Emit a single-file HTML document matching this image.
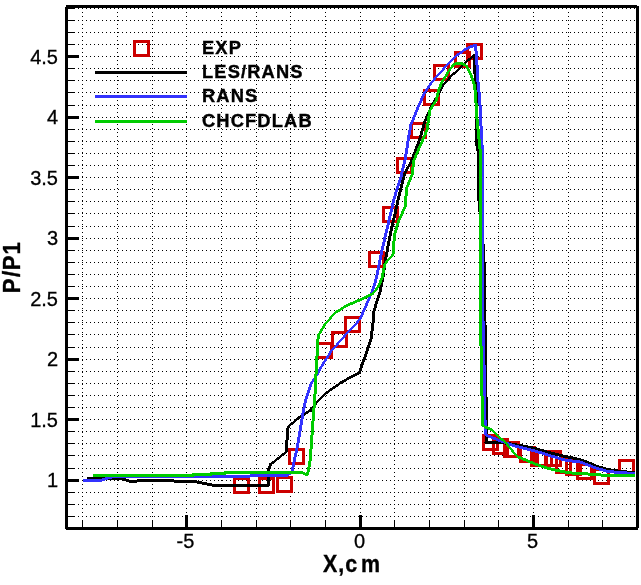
<!DOCTYPE html><html><head><meta charset="utf-8"><title>P/P1</title>
<style>html,body{margin:0;padding:0;background:#fff}body{width:641px;height:585px;overflow:hidden}svg{display:block;will-change:transform}text{font-family:"Liberation Sans",sans-serif;fill:#000}.t{font-size:20px;stroke:#000;stroke-width:0.3px}.b{font-weight:bold;stroke:#000;stroke-width:0.35px}</style></head><body>
<svg width="641" height="585" viewBox="0 0 641 585">
<rect width="641" height="585" fill="#fff"/>
<g shape-rendering="crispEdges" stroke="#000" stroke-width="1" stroke-dasharray="1 3" fill="none">
<line x1="78" x2="636" y1="8.5" y2="8.5"/>
<line x1="78" x2="636" y1="20.5" y2="20.5"/>
<line x1="78" x2="636" y1="32.5" y2="32.5"/>
<line x1="78" x2="636" y1="44.5" y2="44.5"/>
<line x1="78" x2="636" y1="56.5" y2="56.5"/>
<line x1="78" x2="636" y1="68.5" y2="68.5"/>
<line x1="78" x2="636" y1="80.5" y2="80.5"/>
<line x1="78" x2="636" y1="92.5" y2="92.5"/>
<line x1="78" x2="636" y1="105.5" y2="105.5"/>
<line x1="78" x2="636" y1="117.5" y2="117.5"/>
<line x1="78" x2="636" y1="129.5" y2="129.5"/>
<line x1="78" x2="636" y1="141.5" y2="141.5"/>
<line x1="78" x2="636" y1="153.5" y2="153.5"/>
<line x1="78" x2="636" y1="165.5" y2="165.5"/>
<line x1="78" x2="636" y1="177.5" y2="177.5"/>
<line x1="78" x2="636" y1="189.5" y2="189.5"/>
<line x1="78" x2="636" y1="201.5" y2="201.5"/>
<line x1="78" x2="636" y1="213.5" y2="213.5"/>
<line x1="78" x2="636" y1="226.5" y2="226.5"/>
<line x1="78" x2="636" y1="238.5" y2="238.5"/>
<line x1="78" x2="636" y1="250.5" y2="250.5"/>
<line x1="78" x2="636" y1="262.5" y2="262.5"/>
<line x1="78" x2="636" y1="274.5" y2="274.5"/>
<line x1="78" x2="636" y1="286.5" y2="286.5"/>
<line x1="78" x2="636" y1="298.5" y2="298.5"/>
<line x1="78" x2="636" y1="310.5" y2="310.5"/>
<line x1="78" x2="636" y1="322.5" y2="322.5"/>
<line x1="78" x2="636" y1="334.5" y2="334.5"/>
<line x1="78" x2="636" y1="347.5" y2="347.5"/>
<line x1="78" x2="636" y1="359.5" y2="359.5"/>
<line x1="78" x2="636" y1="371.5" y2="371.5"/>
<line x1="78" x2="636" y1="383.5" y2="383.5"/>
<line x1="78" x2="636" y1="395.5" y2="395.5"/>
<line x1="78" x2="636" y1="407.5" y2="407.5"/>
<line x1="78" x2="636" y1="419.5" y2="419.5"/>
<line x1="78" x2="636" y1="431.5" y2="431.5"/>
<line x1="78" x2="636" y1="443.5" y2="443.5"/>
<line x1="78" x2="636" y1="455.5" y2="455.5"/>
<line x1="78" x2="636" y1="468.5" y2="468.5"/>
<line x1="78" x2="636" y1="480.5" y2="480.5"/>
<line x1="78" x2="636" y1="492.5" y2="492.5"/>
<line x1="78" x2="636" y1="504.5" y2="504.5"/>
<line x1="78" x2="636" y1="516.5" y2="516.5"/>
<line x1="82.5" x2="82.5" y1="12" y2="520"/>
<line x1="117.5" x2="117.5" y1="12" y2="520"/>
<line x1="152.5" x2="152.5" y1="12" y2="520"/>
<line x1="186.5" x2="186.5" y1="12" y2="520"/>
<line x1="221.5" x2="221.5" y1="12" y2="520"/>
<line x1="256.5" x2="256.5" y1="12" y2="520"/>
<line x1="290.5" x2="290.5" y1="12" y2="520"/>
<line x1="325.5" x2="325.5" y1="12" y2="520"/>
<line x1="360.5" x2="360.5" y1="12" y2="520"/>
<line x1="394.5" x2="394.5" y1="12" y2="520"/>
<line x1="429.5" x2="429.5" y1="12" y2="520"/>
<line x1="464.5" x2="464.5" y1="12" y2="520"/>
<line x1="498.5" x2="498.5" y1="12" y2="520"/>
<line x1="533.5" x2="533.5" y1="12" y2="520"/>
<line x1="568.5" x2="568.5" y1="12" y2="520"/>
<line x1="602.5" x2="602.5" y1="12" y2="520"/>
</g>
<g shape-rendering="crispEdges" fill="#000">
<rect x="68" y="8" width="7" height="1"/>
<rect x="68" y="20" width="7" height="1"/>
<rect x="68" y="32" width="7" height="1"/>
<rect x="68" y="44" width="7" height="1"/>
<rect x="68" y="55" width="11" height="3"/>
<rect x="68" y="68" width="7" height="1"/>
<rect x="68" y="80" width="7" height="1"/>
<rect x="68" y="92" width="7" height="1"/>
<rect x="68" y="105" width="7" height="1"/>
<rect x="68" y="116" width="11" height="3"/>
<rect x="68" y="129" width="7" height="1"/>
<rect x="68" y="141" width="7" height="1"/>
<rect x="68" y="153" width="7" height="1"/>
<rect x="68" y="165" width="7" height="1"/>
<rect x="68" y="176" width="11" height="3"/>
<rect x="68" y="189" width="7" height="1"/>
<rect x="68" y="201" width="7" height="1"/>
<rect x="68" y="213" width="7" height="1"/>
<rect x="68" y="226" width="7" height="1"/>
<rect x="68" y="237" width="11" height="3"/>
<rect x="68" y="250" width="7" height="1"/>
<rect x="68" y="262" width="7" height="1"/>
<rect x="68" y="274" width="7" height="1"/>
<rect x="68" y="286" width="7" height="1"/>
<rect x="68" y="297" width="11" height="3"/>
<rect x="68" y="310" width="7" height="1"/>
<rect x="68" y="322" width="7" height="1"/>
<rect x="68" y="334" width="7" height="1"/>
<rect x="68" y="347" width="7" height="1"/>
<rect x="68" y="358" width="11" height="3"/>
<rect x="68" y="371" width="7" height="1"/>
<rect x="68" y="383" width="7" height="1"/>
<rect x="68" y="395" width="7" height="1"/>
<rect x="68" y="407" width="7" height="1"/>
<rect x="68" y="418" width="11" height="3"/>
<rect x="68" y="431" width="7" height="1"/>
<rect x="68" y="443" width="7" height="1"/>
<rect x="68" y="455" width="7" height="1"/>
<rect x="68" y="468" width="7" height="1"/>
<rect x="68" y="479" width="11" height="3"/>
<rect x="68" y="492" width="7" height="1"/>
<rect x="68" y="504" width="7" height="1"/>
<rect x="68" y="516" width="7" height="1"/>
<rect x="82" y="520" width="1" height="7"/>
<rect x="117" y="520" width="1" height="7"/>
<rect x="152" y="520" width="1" height="7"/>
<rect x="185" y="515" width="3" height="12"/>
<rect x="221" y="520" width="1" height="7"/>
<rect x="256" y="520" width="1" height="7"/>
<rect x="290" y="520" width="1" height="7"/>
<rect x="325" y="520" width="1" height="7"/>
<rect x="359" y="515" width="3" height="12"/>
<rect x="394" y="520" width="1" height="7"/>
<rect x="429" y="520" width="1" height="7"/>
<rect x="464" y="520" width="1" height="7"/>
<rect x="498" y="520" width="1" height="7"/>
<rect x="532" y="515" width="3" height="12"/>
<rect x="568" y="520" width="1" height="7"/>
<rect x="602" y="520" width="1" height="7"/>
</g>
<g shape-rendering="crispEdges" fill="none" stroke="#cc0000" stroke-width="3">
<rect x="234.5" y="478.5" width="14" height="14"/>
<rect x="259.5" y="478.5" width="14" height="14"/>
<rect x="277.5" y="477.5" width="14" height="14"/>
<rect x="289.5" y="449.5" width="14" height="14"/>
<rect x="317.5" y="343.5" width="14" height="14"/>
<rect x="332.5" y="332.5" width="14" height="14"/>
<rect x="345.5" y="317.5" width="14" height="14"/>
<rect x="369.5" y="252.5" width="14" height="14"/>
<rect x="383.5" y="207.5" width="14" height="14"/>
<rect x="397.5" y="158.5" width="14" height="14"/>
<rect x="411.5" y="123.5" width="14" height="14"/>
<rect x="424.5" y="90.5" width="14" height="14"/>
<rect x="434.5" y="65.5" width="14" height="14"/>
<rect x="455.5" y="52.5" width="14" height="14"/>
<rect x="467.5" y="44.5" width="14" height="14"/>
<rect x="483.5" y="435.5" width="14" height="14"/>
<rect x="493.5" y="439.5" width="14" height="14"/>
<rect x="504.5" y="442.5" width="14" height="14"/>
<rect x="520.5" y="447.5" width="14" height="14"/>
<rect x="531.5" y="451.5" width="14" height="14"/>
<rect x="537.5" y="451.5" width="14" height="14"/>
<rect x="546.5" y="451.5" width="14" height="14"/>
<rect x="556.5" y="458.5" width="14" height="14"/>
<rect x="566.5" y="460.5" width="14" height="14"/>
<rect x="577.5" y="464.5" width="14" height="14"/>
<rect x="594.5" y="469.5" width="14" height="14"/>
<rect x="619.5" y="460.5" width="14" height="14"/>
</g>
<g shape-rendering="crispEdges" stroke="none">
<path fill="#000" d="M87.2 476.5L114.0 476.5L114.0 479.5L87.2 479.5ZM114.0 476.5L122.0 477.0L122.0 480.0L114.0 479.5ZM122.0 477.0L127.0 479.0L127.0 482.0L122.0 480.0ZM127.0 479.0L131.0 480.0L131.0 483.0L127.0 482.0ZM131.0 480.0L136.5 480.0L136.5 483.0L131.0 483.0ZM136.5 480.0L137.5 479.0L137.5 482.0L136.5 483.0ZM137.5 479.0L173.5 479.0L173.5 482.0L137.5 482.0ZM173.5 479.0L174.5 480.0L174.5 483.0L173.5 482.0ZM174.5 480.0L195.0 480.0L195.0 483.0L174.5 483.0ZM195.0 480.0L214.0 484.0L214.0 487.0L195.0 483.0ZM214.0 484.0L268.0 484.0L268.0 487.0L214.0 487.0ZM266.5 485.5L266.5 470.0L269.5 470.0L269.5 485.5ZM266.8 484.3L269.2 484.3L269.2 486.7L266.8 486.7ZM266.5 470.0L269.0 464.5L272.0 464.5L269.5 470.0ZM270.5 463.0L286.0 450.5L286.0 453.5L270.5 466.0ZM269.3 463.3L271.7 463.3L271.7 465.7L269.3 465.7ZM284.5 452.0L285.7 437.5L288.7 437.5L287.5 452.0ZM284.8 450.8L287.2 450.8L287.2 453.2L284.8 453.2ZM285.7 437.5L286.4 428.3L289.4 428.3L288.7 437.5ZM286.4 428.3L287.3 426.4L290.3 426.4L289.4 428.3ZM288.8 424.9L298.2 416.5L298.2 419.5L288.8 427.9ZM287.6 425.2L290.0 425.2L290.0 427.6L287.6 427.6ZM298.2 416.5L310.4 408.9L310.4 411.9L298.2 419.5ZM308.9 410.4L315.5 402.0L318.5 402.0L311.9 410.4ZM309.2 409.2L311.6 409.2L311.6 411.6L309.2 411.6ZM317.0 400.5L325.5 392.0L325.5 395.0L317.0 403.5ZM315.8 400.8L318.2 400.8L318.2 403.2L315.8 403.2ZM325.5 392.0L341.5 380.7L341.5 383.7L325.5 395.0ZM341.5 380.7L359.6 371.0L359.6 374.0L341.5 383.7ZM358.1 372.5L360.9 364.0L363.9 364.0L361.1 372.5ZM358.4 371.3L360.8 371.3L360.8 373.7L358.4 373.7ZM360.9 364.0L365.6 350.9L368.6 350.9L363.9 364.0ZM365.6 350.9L369.4 339.6L372.4 339.6L368.6 350.9ZM369.4 339.6L371.2 326.4L374.2 326.4L372.4 339.6ZM371.2 326.4L372.5 311.4L375.5 311.4L374.2 326.4ZM372.5 311.4L375.4 301.0L378.4 301.0L375.5 311.4ZM375.4 301.0L378.8 290.7L381.8 290.7L378.4 301.0ZM378.8 290.7L381.1 279.4L384.1 279.4L381.8 290.7ZM381.1 279.4L384.2 258.4L387.2 258.4L384.1 279.4ZM384.2 258.4L388.9 234.0L391.9 234.0L387.2 258.4ZM388.9 234.0L393.6 213.2L396.6 213.2L391.9 234.0ZM393.6 213.2L398.3 192.6L401.3 192.6L396.6 213.2ZM398.3 192.6L403.0 173.8L406.0 173.8L401.3 192.6ZM403.0 173.8L409.5 162.1L412.5 162.1L406.0 173.8ZM409.5 162.1L418.0 139.6L421.0 139.6L412.5 162.1ZM418.0 139.6L423.6 120.8L426.6 120.8L421.0 139.6ZM423.6 120.8L430.2 105.7L433.2 105.7L426.6 120.8ZM430.2 105.7L436.0 96.0L439.0 96.0L433.2 105.7ZM436.0 96.0L441.5 85.0L444.5 85.0L439.0 96.0ZM441.5 85.0L449.7 76.2L452.7 76.2L444.5 85.0ZM451.2 74.7L462.4 64.1L462.4 67.1L451.2 77.7ZM450.0 75.0L452.4 75.0L452.4 77.4L450.0 77.4ZM462.4 64.1L473.9 53.5L473.9 56.5L462.4 67.1ZM475.4 55.0L476.0 69.9L473.0 69.9L472.4 55.0ZM472.7 53.8L475.1 53.8L475.1 56.2L472.7 56.2ZM476.0 69.9L477.7 82.4L474.7 82.4L473.0 69.9ZM477.7 82.4L478.3 103.0L475.3 103.0L474.7 82.4ZM478.3 103.0L478.3 145.2L475.3 145.2L475.3 103.0ZM478.3 145.2L480.2 154.6L477.2 154.6L475.3 145.2ZM480.2 154.6L480.2 198.0L477.2 198.0L477.2 154.6ZM480.2 198.0L485.0 249.0L482.0 249.0L477.2 198.0ZM485.0 249.0L486.0 274.0L483.0 274.0L482.0 249.0ZM486.0 274.0L486.0 315.0L483.0 315.0L483.0 274.0ZM486.0 315.0L486.5 325.0L483.5 325.0L483.0 315.0ZM486.5 325.0L487.3 392.0L484.3 392.0L483.5 325.0ZM487.3 392.0L487.8 405.0L484.8 405.0L484.3 392.0ZM487.8 405.0L487.8 424.7L484.8 424.7L484.8 405.0ZM487.8 424.7L487.5 442.6L484.5 442.6L484.8 424.7ZM486.0 441.1L502.9 441.1L502.9 444.1L486.0 444.1ZM484.8 441.4L487.2 441.4L487.2 443.8L484.8 443.8ZM502.9 441.1L521.2 444.2L521.2 447.2L502.9 444.1ZM521.2 444.2L535.2 447.0L535.2 450.0L521.2 447.2ZM535.2 447.0L550.0 451.3L550.0 454.3L535.2 450.0ZM550.0 451.3L564.2 454.8L564.2 457.8L550.0 454.3ZM564.2 454.8L578.4 457.7L578.4 460.7L564.2 457.8ZM578.4 457.7L585.5 459.8L585.5 462.8L578.4 460.7ZM585.5 459.8L596.8 464.8L596.8 467.8L585.5 462.8ZM596.8 464.8L606.8 467.6L606.8 470.6L596.8 467.8ZM606.8 467.6L613.9 469.0L613.9 472.0L606.8 470.6ZM613.9 469.0L635.0 471.5L635.0 474.5L613.9 472.0Z"/>
<path fill="#3333ff" d="M83.1 479.0L100.0 479.0L100.0 482.0L83.1 482.0ZM100.0 479.0L106.0 477.0L106.0 480.0L100.0 482.0ZM106.0 477.0L113.4 475.0L113.4 478.0L106.0 480.0ZM113.4 475.0L249.0 475.0L249.0 478.0L113.4 478.0ZM249.0 475.0L250.0 474.0L250.0 477.0L249.0 478.0ZM250.0 474.0L287.0 474.0L287.0 477.0L250.0 477.0ZM287.0 474.0L290.0 472.0L290.0 475.0L287.0 477.0ZM288.5 473.5L290.9 470.6L293.9 470.6L291.5 473.5ZM288.8 472.3L291.2 472.3L291.2 474.7L288.8 474.7ZM290.9 470.6L293.5 457.0L296.5 457.0L293.9 470.6ZM293.5 457.0L296.2 445.2L299.2 445.2L296.5 457.0ZM296.2 445.2L301.4 413.2L304.4 413.2L299.2 445.2ZM301.4 413.2L304.2 400.0L307.2 400.0L304.4 413.2ZM304.2 400.0L309.9 383.2L312.9 383.2L307.2 400.0ZM309.9 383.2L315.8 374.4L318.8 374.4L312.9 383.2ZM315.8 374.4L321.4 364.0L324.4 364.0L318.8 374.4ZM321.4 364.0L329.9 350.9L332.9 350.9L324.4 364.0ZM329.9 350.9L344.9 333.9L347.9 333.9L332.9 350.9ZM344.9 333.9L358.1 319.8L361.1 319.8L347.9 333.9ZM358.1 319.8L363.7 307.6L366.7 307.6L361.1 319.8ZM363.7 307.6L369.4 294.4L372.4 294.4L366.7 307.6ZM369.4 294.4L373.1 285.0L376.1 285.0L372.4 294.4ZM373.1 285.0L375.0 277.5L378.0 277.5L376.1 285.0ZM375.0 277.5L379.5 254.6L382.5 254.6L378.0 277.5ZM379.5 254.6L386.1 226.4L389.1 226.4L382.5 254.6ZM386.1 226.4L392.7 198.2L395.7 198.2L389.1 226.4ZM392.7 198.2L399.3 177.5L402.3 177.5L395.7 198.2ZM399.3 177.5L403.9 158.4L406.9 158.4L402.3 177.5ZM403.9 158.4L406.7 139.6L409.7 139.6L406.9 158.4ZM406.7 139.6L409.5 124.5L412.5 124.5L409.7 139.6ZM409.5 124.5L415.2 110.4L418.2 110.4L412.5 124.5ZM415.2 110.4L422.7 93.5L425.7 93.5L418.2 110.4ZM422.7 93.5L431.0 81.2L434.0 81.2L425.7 93.5ZM431.0 81.2L443.5 67.4L446.5 67.4L434.0 81.2ZM443.5 67.4L455.9 55.0L458.9 55.0L446.5 67.4ZM457.4 53.5L466.2 47.2L466.2 50.2L457.4 56.5ZM456.2 53.8L458.6 53.8L458.6 56.2L456.2 56.2ZM466.2 47.2L475.5 43.5L475.5 46.5L466.2 50.2ZM477.0 45.0L478.3 61.2L475.3 61.2L474.0 45.0ZM474.3 43.8L476.7 43.8L476.7 46.2L474.3 46.2ZM478.3 61.2L479.5 82.4L476.5 82.4L475.3 61.2ZM479.5 82.4L481.2 98.2L478.2 98.2L476.5 82.4ZM481.2 98.2L483.0 135.8L480.0 135.8L478.2 98.2ZM483.0 135.8L484.0 154.6L481.0 154.6L480.0 135.8ZM484.0 154.6L484.0 250.0L481.0 250.0L481.0 154.6ZM484.0 250.0L484.0 315.0L481.0 315.0L481.0 250.0ZM484.0 315.0L484.8 325.0L481.8 325.0L481.0 315.0ZM484.8 325.0L486.5 420.0L483.5 420.0L481.8 325.0ZM486.5 420.0L486.7 433.0L483.7 433.0L483.5 420.0ZM486.7 433.0L487.5 435.2L484.5 435.2L483.7 433.0ZM486.0 433.7L500.1 439.3L500.1 442.3L486.0 436.7ZM484.8 434.0L487.2 434.0L487.2 436.4L484.8 436.4ZM500.1 439.3L514.1 444.2L514.1 447.2L500.1 442.3ZM514.1 444.2L528.2 447.7L528.2 450.7L514.1 447.2ZM528.2 447.7L540.8 451.2L540.8 454.2L528.2 450.7ZM540.8 451.2L550.0 454.1L550.0 457.1L540.8 454.2ZM550.0 454.1L564.2 458.4L564.2 461.4L550.0 457.1ZM564.2 458.4L579.8 460.5L579.8 463.5L564.2 461.4ZM579.8 460.5L585.5 462.6L585.5 465.6L579.8 463.5ZM585.5 462.6L596.8 466.9L596.8 469.9L585.5 465.6ZM596.8 466.9L606.8 469.7L606.8 472.7L596.8 469.9ZM606.8 469.7L621.0 471.2L621.0 474.2L606.8 472.7ZM621.0 471.2L634.5 471.9L634.5 474.9L621.0 474.2Z"/>
<path fill="#00cc00" d="M93.2 474.0L193.0 474.0L193.0 477.0L93.2 477.0ZM191.5 475.5L192.0 474.5L195.0 474.5L194.5 475.5ZM191.8 474.3L194.2 474.3L194.2 476.7L191.8 476.7ZM193.5 473.0L211.0 473.0L211.0 476.0L193.5 476.0ZM192.3 473.3L194.7 473.3L194.7 475.7L192.3 475.7ZM209.5 474.5L210.0 473.5L213.0 473.5L212.5 474.5ZM209.8 473.3L212.2 473.3L212.2 475.7L209.8 475.7ZM211.5 472.0L225.0 472.0L225.0 475.0L211.5 475.0ZM210.3 472.3L212.7 472.3L212.7 474.7L210.3 474.7ZM223.5 473.5L224.0 472.5L227.0 472.5L226.5 473.5ZM223.8 472.3L226.2 472.3L226.2 474.7L223.8 474.7ZM225.5 471.0L302.0 471.0L302.0 474.0L225.5 474.0ZM224.3 471.3L226.7 471.3L226.7 473.7L224.3 473.7ZM302.0 471.0L307.0 473.5L307.0 476.5L302.0 474.0ZM305.5 475.0L307.0 470.0L310.0 470.0L308.5 475.0ZM305.8 473.8L308.2 473.8L308.2 476.2L305.8 476.2ZM307.0 470.0L308.7 460.3L311.7 460.3L310.0 470.0ZM308.7 460.3L311.4 422.7L314.4 422.7L311.7 460.3ZM311.4 422.7L313.3 398.2L316.3 398.2L314.4 422.7ZM313.3 398.2L314.8 367.8L317.8 367.8L316.3 398.2ZM314.8 367.8L316.7 335.8L319.7 335.8L317.8 367.8ZM316.7 335.8L323.3 324.5L326.3 324.5L319.7 335.8ZM323.3 324.5L333.6 312.9L336.6 312.9L326.3 324.5ZM335.1 311.4L346.4 304.2L346.4 307.2L335.1 314.4ZM333.9 311.7L336.3 311.7L336.3 314.1L333.9 314.1ZM346.4 304.2L359.6 298.6L359.6 301.6L346.4 307.2ZM359.6 298.6L372.7 292.0L372.7 295.0L359.6 301.6ZM371.2 293.5L376.9 286.9L379.9 286.9L374.2 293.5ZM371.5 292.3L373.9 292.3L373.9 294.7L371.5 294.7ZM376.9 286.9L380.6 277.5L383.6 277.5L379.9 286.9ZM380.6 277.5L383.3 264.0L386.3 264.0L383.6 277.5ZM383.3 264.0L392.1 253.7L395.1 253.7L386.3 264.0ZM392.1 253.7L392.7 235.8L395.7 235.8L395.1 253.7ZM392.7 235.8L396.5 222.7L399.5 222.7L395.7 235.8ZM396.5 222.7L404.0 205.7L407.0 205.7L399.5 222.7ZM404.0 205.7L404.9 188.8L407.9 188.8L407.0 205.7ZM404.9 188.8L410.5 174.7L413.5 174.7L407.9 188.8ZM410.5 174.7L412.3 160.3L415.3 160.3L413.5 174.7ZM412.3 160.3L418.9 145.2L421.9 145.2L415.3 160.3ZM418.9 145.2L425.5 130.2L428.5 130.2L421.9 145.2ZM425.5 130.2L428.3 110.4L431.3 110.4L428.5 130.2ZM428.3 110.4L434.9 100.1L437.9 100.1L431.3 110.4ZM434.9 100.1L437.2 89.9L440.2 89.9L437.9 100.1ZM437.2 89.9L440.3 82.4L443.3 82.4L440.2 89.9ZM440.3 82.4L447.2 71.2L450.2 71.2L443.3 82.4ZM447.2 71.2L452.2 64.3L455.2 64.3L450.2 71.2ZM453.7 62.8L457.4 61.6L457.4 64.6L453.7 65.8ZM452.5 63.1L454.9 63.1L454.9 65.5L452.5 65.5ZM457.4 61.6L462.4 61.9L462.4 64.9L457.4 64.6ZM462.4 61.9L466.8 64.7L466.8 67.7L462.4 64.9ZM468.3 66.2L471.4 72.4L468.4 72.4L465.3 66.2ZM465.6 65.0L468.0 65.0L468.0 67.4L465.6 67.4ZM471.4 72.4L475.2 82.4L472.2 82.4L468.4 72.4ZM475.2 82.4L477.0 92.4L474.0 92.4L472.2 82.4ZM477.0 92.4L477.5 103.0L474.5 103.0L474.0 92.4ZM477.5 103.0L478.3 117.0L475.3 117.0L474.5 103.0ZM478.3 117.0L480.2 135.8L477.2 135.8L475.3 117.0ZM480.2 135.8L482.0 154.6L479.0 154.6L477.2 135.8ZM482.0 154.6L482.0 320.0L479.0 320.0L479.0 154.6ZM482.0 320.0L484.0 420.0L481.0 420.0L479.0 320.0ZM484.0 420.0L483.6 424.7L480.6 424.7L481.0 420.0ZM482.1 423.2L484.7 425.3L484.7 428.3L482.1 426.2ZM480.9 423.5L483.3 423.5L483.3 425.9L480.9 425.9ZM484.7 425.3L490.3 427.4L490.3 430.4L484.7 428.3ZM490.3 427.4L497.3 433.7L497.3 436.7L490.3 430.4ZM497.3 433.7L505.7 441.4L505.7 444.4L497.3 436.7ZM507.2 442.9L514.2 451.3L511.2 451.3L504.2 442.9ZM504.5 441.7L506.9 441.7L506.9 444.1L504.5 444.1ZM514.2 451.3L519.9 457.0L516.9 457.0L511.2 451.3ZM518.4 455.5L526.8 459.0L526.8 462.0L518.4 458.5ZM517.2 455.8L519.6 455.8L519.6 458.2L517.2 458.2ZM526.8 459.0L535.2 462.5L535.2 465.5L526.8 462.0ZM535.2 462.5L545.0 466.0L545.0 469.0L535.2 465.5ZM545.0 466.0L552.0 467.8L552.0 470.8L545.0 469.0ZM552.0 467.8L564.2 470.4L564.2 473.4L552.0 470.8ZM564.2 470.4L578.4 472.3L578.4 475.3L564.2 473.4ZM578.4 472.3L592.6 472.6L592.6 475.6L578.4 475.3ZM592.6 472.6L602.5 473.7L602.5 476.7L592.6 475.6ZM602.5 473.7L635.2 474.0L635.2 477.0L602.5 476.7Z"/>
</g>
<rect x="66.5" y="6.5" width="571" height="522" fill="none" stroke="#000" stroke-width="3" shape-rendering="crispEdges"/>
<g fill="#fff" shape-rendering="crispEdges"><rect x="65" y="5" width="1" height="2"/><rect x="637" y="5" width="2" height="1"/><rect x="638" y="528" width="1" height="2"/><rect x="65" y="529" width="1" height="1"/></g>
<g shape-rendering="crispEdges"><rect x="134.5" y="41.5" width="14" height="14" fill="none" stroke="#cc0000" stroke-width="3"/>
<rect x="95" y="71" width="92" height="3" fill="#000"/><rect x="95" y="95" width="92" height="3" fill="#3333ff"/><rect x="95" y="120" width="92" height="3" fill="#00cc00"/></g>
<g class="b" font-size="18.3" letter-spacing="1.15">
<text x="202" y="54.2">EXP</text>
<text x="202" y="78.2">LES/RANS</text>
<text x="202" y="102.2">RANS</text>
<text x="202" y="127.2">CHCFDLAB</text>
</g>
<g class="t" text-anchor="end">
<text x="58" y="63.7">4.5</text>
<text x="58" y="123.7">4</text>
<text x="58" y="184.7">3.5</text>
<text x="58" y="244.7">3</text>
<text x="58" y="305.7">2.5</text>
<text x="58" y="365.7">2</text>
<text x="58" y="426.7">1.5</text>
<text x="58" y="486.7">1</text>
</g><g class="t" text-anchor="middle">
<text x="185.5" y="548.4">-5</text>
<text x="359.5" y="548.4">0</text>
<text x="532.5" y="548.4">5</text>
</g>
<text class="b" font-size="23.3" transform="translate(323.1 571.8) scale(0.92 1)" x="0 16.6 24.1 41.1">X,cm</text>
<text class="b" font-size="23.3" transform="translate(20.3 292) rotate(-90) scale(0.95 1)" x="-1.3 15.8 22.9 39.4">P/P1</text>
</svg></body></html>
